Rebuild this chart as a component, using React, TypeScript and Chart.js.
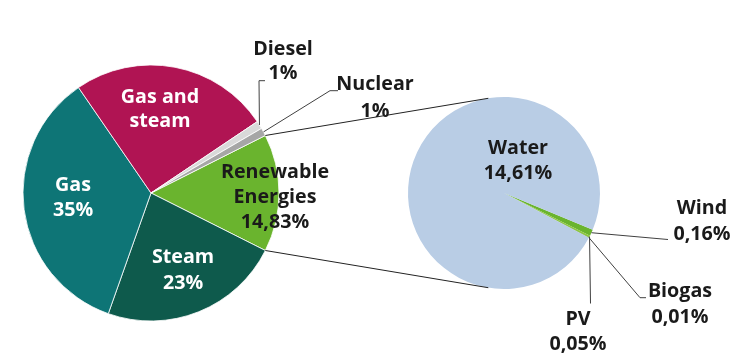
import React, { useEffect, useRef } from 'react';
import { Chart, registerables } from 'chart.js';

Chart.register(...registerables);

// ---- data ----
const mainCategories = ['Renewable Energies', 'Steam', 'Gas', 'Gas and steam', 'Diesel', 'Nuclear'];
const mainValues = [14.83, 23, 35, 25.17, 1, 1];
const mainValueLabels = ['14,83%', '23%', '35%', '', '1%', '1%'];

const subCategories = ['Wind', 'PV', 'Biogas', 'Water'];
const subValues = [0.16, 0.05, 0.01, 14.61];
const subValueLabels = ['0,16%', '0,05%', '0,01%', '14,61%'];

// ---- styles ----
const mainColors = ['#6AB42E', '#0E5A4C', '#0E7576', '#B01453', '#D9D9D9', '#A6A6A6'];
const subColors = ['#6AB42E', '#8CC63F', '#4E8A2A', '#B9CDE5'];
const FONT = 'bold 19.7px "Open Sans", sans-serif';
const DARK = '#1a1a1a';

type Layout = {
  i: number;
  split: number; // words in first line of name (0 = no split)
  x: number;
  y: number[];
  color: string;
  leader?: number[][];
};

const mainLayout: Layout[] = [
  { i: 0, split: 1, x: 275, y: [178.3, 203.3, 228.3], color: DARK },
  { i: 1, split: 0, x: 183, y: [263.4, 289.4], color: '#fff' },
  { i: 2, split: 0, x: 73, y: [190.7, 216], color: '#fff' },
  { i: 3, split: 2, x: 160, y: [103.4, 127.4], color: '#fff' },
  { i: 4, split: 0, x: 283, y: [55, 79.3], color: DARK, leader: [[259, 80.7], [265, 80.7]] },
  { i: 5, split: 0, x: 375, y: [90, 116.7], color: DARK, leader: [[330, 90.7], [338, 90.7]] },
];

const subLayout: Layout[] = [
  { i: 0, split: 0, x: 702, y: [214, 240], color: DARK, leader: [[668, 239.5]] },
  { i: 1, split: 0, x: 578, y: [325, 350], color: DARK, leader: [[590.5, 303.5]] },
  { i: 2, split: 0, x: 680, y: [297.3, 323.3], color: DARK, leader: [[640, 297.7], [646, 297.7]] },
  { i: 3, split: 0, x: 518, y: [154.3, 179], color: DARK },
];

function nameLines(name: string, split: number): string[] {
  if (!split) return [name];
  const w = name.split(' ');
  return [w.slice(0, split).join(' '), w.slice(split).join(' ')];
}

function midPoint(arc: any) {
  const a = (arc.startAngle + arc.endAngle) / 2;
  return [arc.x + Math.cos(a) * arc.outerRadius, arc.y + Math.sin(a) * arc.outerRadius];
}

function drawLabels(chart: any, layout: Layout[], cats: string[], vals: string[]) {
  const ctx = chart.ctx as CanvasRenderingContext2D;
  const arcs = chart.getDatasetMeta(0).data;
  ctx.save();
  // leaders
  ctx.strokeStyle = '#404040';
  ctx.lineWidth = 1;
  layout.forEach((l) => {
    if (!l.leader) return;
    const [sx, sy] = midPoint(arcs[l.i]);
    ctx.beginPath();
    ctx.moveTo(sx, sy);
    l.leader.forEach(([px, py]) => ctx.lineTo(px, py));
    ctx.stroke();
  });
  ctx.font = FONT;
  ctx.textAlign = 'center';
  ctx.textBaseline = 'alphabetic';
  layout.forEach((l) => {
    const lines = nameLines(cats[l.i], l.split);
    if (vals[l.i]) lines.push(vals[l.i]);
    ctx.fillStyle = l.color;
    lines.forEach((t, k) => ctx.fillText(t, l.x, l.y[k]));
  });
  ctx.restore();
}

export default function App() {
  const leftRef = useRef<HTMLCanvasElement>(null);
  const rightRef = useRef<HTMLCanvasElement>(null);

  useEffect(() => {
    document.body.style.margin = '0';
    const total = mainValues.reduce((a, b) => a + b, 0);

    const left = new Chart(leftRef.current!, {
      type: 'pie',
      data: {
        labels: mainCategories,
        datasets: [{ data: mainValues, backgroundColor: mainColors, borderColor: '#ffffff', borderWidth: 0.8 }],
      },
      options: {
        responsive: false,
        animation: false,
        events: [],
        rotation: 90 - (mainValues[0] / total) * 180,
        radius: 128,
        layout: { padding: { left: 0, right: 437, top: 28, bottom: 0 } },
        plugins: { legend: { display: false }, tooltip: { enabled: false } },
      } as any,
      plugins: [
        {
          id: 'leftLabels',
          afterDraw: (c: any) => drawLabels(c, mainLayout, mainCategories, mainValueLabels),
        },
      ],
    });

    const right = new Chart(rightRef.current!, {
      type: 'pie',
      data: {
        labels: subCategories,
        datasets: [{ data: subValues, backgroundColor: subColors, borderWidth: 0 }],
      },
      options: {
        responsive: false,
        animation: false,
        events: [],
        rotation: 112.5,
        radius: 96,
        layout: { padding: { left: 408, right: 139, top: 97, bottom: 69 } },
        plugins: { legend: { display: false }, tooltip: { enabled: false } },
      } as any,
      plugins: [
        {
          id: 'connectors',
          afterDraw: (c: any) => {
            const ctx = c.ctx as CanvasRenderingContext2D;
            const ren: any = left.getDatasetMeta(0).data[0];
            const sub: any = c.getDatasetMeta(0).data[0];
            if (!ren || !sub) return;
            const off = (9.4 * Math.PI) / 180;
            const pts = [
              [ren.startAngle, -Math.PI / 2 - off],
              [ren.endAngle, Math.PI / 2 + off],
            ];
            ctx.save();
            ctx.strokeStyle = '#222';
            ctx.lineWidth = 1;
            pts.forEach(([a1, a2]) => {
              ctx.beginPath();
              ctx.moveTo(ren.x + Math.cos(a1) * ren.outerRadius, ren.y + Math.sin(a1) * ren.outerRadius);
              ctx.lineTo(sub.x + Math.cos(a2) * sub.outerRadius, sub.y + Math.sin(a2) * sub.outerRadius);
              ctx.stroke();
            });
            ctx.restore();
            drawLabels(c, subLayout, subCategories, subValueLabels);
          },
        },
      ],
    });

    return () => {
      right.destroy();
      left.destroy();
    };
  }, []);

  const cs: React.CSSProperties = { position: 'absolute', left: 0, top: 0, display: 'block' };
  return (
    <div style={{ position: 'fixed', left: 0, top: 0, width: 739, height: 358, background: '#fff' }}>
      <canvas ref={leftRef} width={739} height={358} style={cs} />
      <canvas ref={rightRef} width={739} height={358} style={cs} />
    </div>
  );
}
